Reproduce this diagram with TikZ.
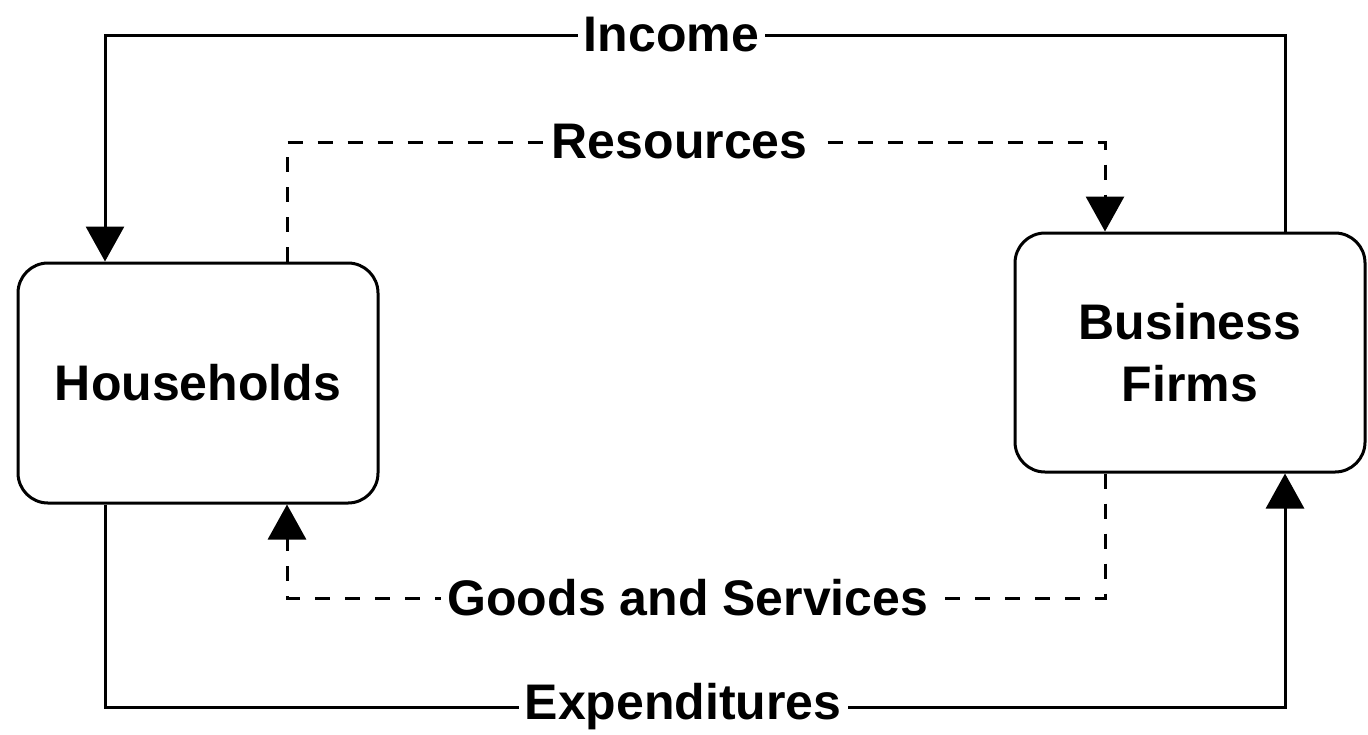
\documentclass[tikz,border=0pt]{standalone}
\usepackage{fontspec}
\setmainfont{Liberation Sans}
\usetikzlibrary{arrows.meta}
\usetikzlibrary{positioning}

\begin{document}
\begin{tikzpicture}[x=0.5pt,y=0.5pt,yscale=-1,xscale=1]
  \tikzstyle{sector} = [draw,line width=1.5pt,rounded corners=15pt,align=center,font=\bfseries\fontsize{25}{31}\selectfont]
  \tikzstyle{money} = [line width=1.5pt,-{Triangle[length=17.5pt,width=19pt]}]
  \tikzstyle{real} = [money,dash pattern=on 7.5pt off 7.5pt]
  \tikzstyle{lbl} = [fill=white,inner xsep=3pt,inner ysep=1pt,font=\bfseries\fontsize{25}{28}\selectfont]
  \useasboundingbox (0,0) rectangle (1368,734);
  %Draw the two sectors
  \node (households) [sector,minimum width=180pt,minimum height=120pt] at (198,383) {Households};
  \node (firms) [sector,minimum width=175pt,minimum height=119.5pt] at (1190,352.5) {Business\\Firms};
  %corners of the outer loop
  \coordinate (inc1) at (1285,35);
  \coordinate (inc2) at (105,35);
  \coordinate (exp1) at (105,707);
  \coordinate (exp2) at (1285,707);
  %corners of the inner loop
  \coordinate (res1) at (287,142);
  \coordinate (res2) at (1105,142);
  \coordinate (gds1) at (1105,598);
  \coordinate (gds2) at (287,598);
  % Income, firms to households
  \draw [money] (firms.north -| inc1) -- (inc1) -- node (income) [lbl,pos=0.52] {Income} (inc2) -- (households.north -| inc2);
  % Resources, households to firms
  \draw [real] (households.north -| res1) -- (res1) -- node (resources) [lbl,pos=0.48] {Resources} (res2) -- (firms.north -| res2);
  % Goods and services, firms to households
  \draw [real] (firms.south -| gds1) -- (gds1) -- node (goods) [lbl,pos=0.51] {Goods and Services} (gds2) -- (households.south -| gds2);
  % Expenditures, households to firms
  \draw [money] (households.south -| exp1) -- (exp1) -- node (expend) [lbl,pos=0.49] {Expenditures} (exp2) -- (firms.south -| exp2);
\end{tikzpicture}
\end{document}
